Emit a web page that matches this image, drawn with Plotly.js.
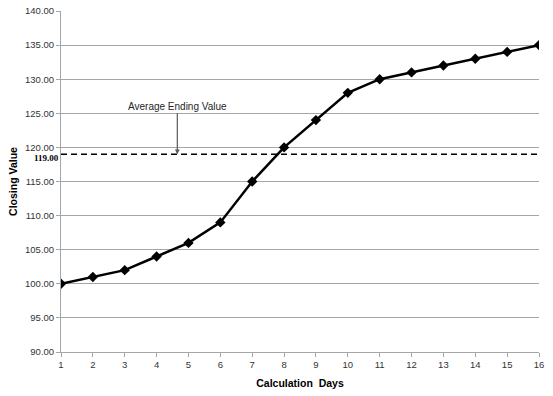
<!DOCTYPE html>
<html><head><meta charset="utf-8">
<script src="https://cdn.plot.ly/plotly-3.0.1.min.js"></script>
<style>html,body{margin:0;padding:0;background:#fff}#chart{width:553px;height:396px}</style>
</head><body><div id="chart"></div>
<script>
const days = [1,2,3,4,5,6,7,8,9,10,11,12,13,14,15,16];
const closingValues = [100,101,102,104,106,109,115,120,124,128,130,131,132,133,134,135];
const averageEnding = 119;
const averageLabel = "Average Ending Value";
const averageX = 4.65;
const yTicks = [90,95,100,105,110,115,120,125,130,135,140];

const traces = [
  {x: days, y: closingValues, type: 'scatter', mode: 'lines+markers',
   line: {color: '#000', width: 2.5},
   marker: {symbol: 'diamond', size: 8, color: '#000'},
   hoverinfo: 'skip', showlegend: false}
];

const layout = {
  width: 553, height: 396,
  margin: {l: 61, r: 14, t: 11, b: 44},
  paper_bgcolor: '#fff', plot_bgcolor: '#fff',
  font: {family: 'Liberation Sans, Arial, sans-serif', size: 9, color: '#404040'},
  showlegend: false,
  xaxis: {
    range: [1, 16], tickvals: days, ticktext: days.map(String),
    showgrid: false, zeroline: false,
    showline: true, linecolor: '#a6a6a6', linewidth: 1,
    ticks: 'outside', ticklen: 4, tickcolor: '#a6a6a6',
    tickfont: {size: 9.5, color: '#333'},
    title: {text: 'Calculation  Days', font: {size: 10.5, color: '#000', family: 'Liberation Sans, Arial, sans-serif', weight: 'bold'}, standoff: 10}
  },
  yaxis: {
    range: [90, 140], tickvals: yTicks, ticktext: yTicks.map(v => v.toFixed(2)),
    showgrid: true, gridcolor: '#a6a6a6', gridwidth: 1, zeroline: false,
    showline: true, linecolor: '#a6a6a6', linewidth: 1,
    ticks: 'outside', ticklen: 4, tickcolor: '#a6a6a6',
    tickfont: {size: 9.5, color: '#333'},
    title: {text: 'Closing Value', font: {size: 10.5, color: '#000', family: 'Liberation Sans, Arial, sans-serif', weight: 'bold'}, standoff: 5}
  },
  shapes: [
    {type: 'line', xref: 'x', yref: 'y', x0: 1, x1: 16, y0: averageEnding, y1: averageEnding,
     line: {color: '#000', width: 1.5, dash: '6px,4px'}}
  ],
  annotations: [
    {xref: 'paper', yref: 'y', x: 0, y: averageEnding, xanchor: 'right', yanchor: 'middle',
     text: '<b>' + averageEnding.toFixed(2) + '</b>', showarrow: false, xshift: 0, yshift: -4,
     font: {family: 'Liberation Serif, Times New Roman, serif', size: 9, color: '#000'}},
    {xref: 'x', yref: 'y', x: averageX, y: averageEnding, ax: 0, ay: -48,
     text: averageLabel, showarrow: true, arrowhead: 2, arrowsize: 0.8, arrowwidth: 1.2,
     arrowcolor: '#595959', standoff: 0,
     font: {family: 'Liberation Sans, Arial, sans-serif', size: 10, color: '#262626'}}
  ]
};

Plotly.newPlot('chart', traces, layout, {displayModeBar: false, staticPlot: true});
</script>
</body></html>
